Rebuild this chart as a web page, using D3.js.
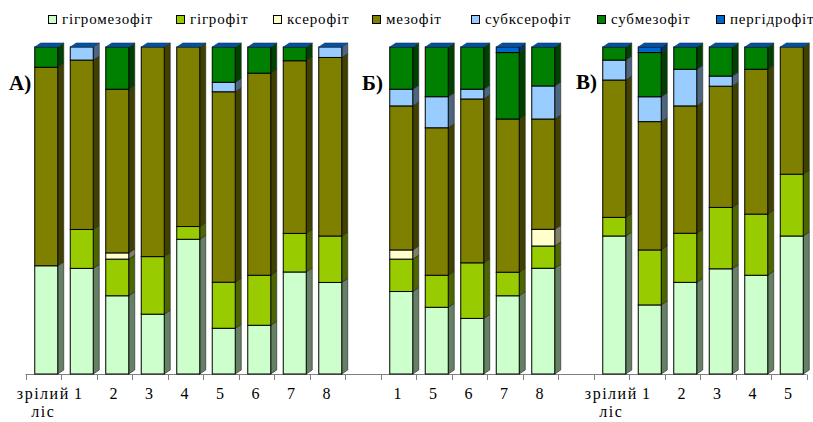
<!DOCTYPE html>
<html>
<head>
<meta charset="utf-8">
<script src="https://cdn.jsdelivr.net/npm/d3@7"></script>
<style>
  body { margin: 0; background: #fff; }
</style>
</head>
<body>
<div id="chart"></div>
<script>
// series (bottom to top in each stack)
const series = ["гігромезофіт", "гігрофіт", "ксерофіт", "мезофіт", "субксерофіт", "субмезофіт", "пергідрофіт"];
const colors = ["#CCFFCC", "#99CC00", "#FFFFCC", "#808000", "#99CCFF", "#008000", "#0066CC"];

// 22 slots: group А (9), gap, group Б (5), gap, group В (6)
const categories = ["A0","A1","A2","A3","A4","A5","A6","A7","A8","gap1",
                    "B1","B5","B6","B7","B8","gap2",
                    "V0","V1","V2","V3","V4","V5"];
const tickLabels = ["зрілий ліс","1","2","3","4","5","6","7","8","",
                    "1","5","6","7","8","",
                    "зрілий ліс","1","2","3","4","5"];
const groupLabels = ["А)", "Б)", "В)"];

// percentages (null = empty slot)
const gigromezofit = [33.1,32.3,23.9,18.3,41.2,14.0,14.9,31.2,28.0,null, 25.2,20.4,17.0,23.9,32.3,null, 42.2,21.1,28.0,32.2,30.2,42.2];
const gigrofit     = [0,11.9,11.2,17.6,3.9,14.1,15.3,11.8,14.2,null,     9.9,9.8,17.0,7.2,6.8,null,      5.7,16.8,15.0,18.8,18.7,18.9];
const kserofit     = [0,0,1.9,0,0,0,0,0,0,null,                          2.8,0,0,0,5.1,null,             0,0,0,0,0,0];
const mezofit      = [60.7,51.8,50.0,64.1,54.9,58.3,61.8,52.8,54.6,null, 44.0,45.1,50.1,46.8,33.7,null, 42.0,39.2,38.9,37.1,44.3,38.9];
const subkserofit  = [0,4.0,0,0,0,2.9,0,0,3.2,null,                      5.1,9.5,3.0,0,10.1,null,        6.1,7.6,11.2,3.1,0,0];
const submezofit   = [6.2,0,12.9,0,0,10.8,8.0,4.2,0,null,                12.9,15.2,12.9,20.3,11.9,null,  4.0,13.5,6.8,8.9,6.8,0];
const pergidrofit  = [0,0,0,0,0,0,0,0,0,null,                            0,0,0,1.7,0,null,               0,1.7,0,0,0,0];

const seriesValues = [gigromezofit, gigrofit, kserofit, mezofit, subkserofit, submezofit, pergidrofit];

const width = 813, height = 422;
const FONT = "'Liberation Serif', 'DejaVu Serif', serif";
const svg = d3.select("#chart").append("svg")
  .attr("width", width).attr("height", height)
  .style("display", "block");

const rows = categories.map((c, i) => {
  const r = { cat: c };
  series.forEach((s, j) => r[s] = seriesValues[j][i] || 0);
  return r;
}).filter((r, i) => gigromezofit[i] !== null);

const stack = d3.stack().keys(series).offset(d3.stackOffsetExpand);
const layers = stack(rows);

const x = d3.scaleBand().domain(categories).range([25.5, 806.5]).paddingInner(0).paddingOuter(0);
const y = d3.scaleLinear().domain([0, 1]).range([374, 47]);
const color = d3.scaleOrdinal().domain(series).range(colors);

const barW = 23, dx = 6, dy = 4;
const bx = c => x(c) + x.bandwidth() / 2 - barW / 2 + 3;

function shade(c, k) {
  const o = d3.rgb(c);
  return d3.rgb(o.r * k, o.g * k, o.b * k).formatHex();
}

// axis line + boundary ticks
const axisG = svg.append("g");
axisG.append("line")
  .attr("x1", x.range()[0]).attr("x2", x.range()[1])
  .attr("y1", 374.5).attr("y2", 374.5)
  .attr("stroke", "#808080").attr("stroke-width", 1);
const tickPos = categories.map(c => x(c)).concat([x.range()[1]]);
axisG.selectAll(".tick").data(tickPos).enter().append("line")
  .attr("x1", d => Math.round(d) + 0.5).attr("x2", d => Math.round(d) + 0.5)
  .attr("y1", 374.5).attr("y2", 380)
  .attr("stroke", "#808080");

// bars: side faces, then front faces, then top cap
const barG = svg.append("g");
rows.forEach((r, i) => {
  const g = barG.append("g");
  layers.forEach((layer, j) => {
    const d = layer[i];
    const y0 = y(d[0]), y1 = y(d[1]);
    if (y0 - y1 <= 0) return;
    const x0 = bx(r.cat);
    g.append("path")
      .attr("d", `M${x0 + barW},${y0} L${x0 + barW + dx},${y0 - dy} L${x0 + barW + dx},${y1 - dy} L${x0 + barW},${y1} Z`)
      .attr("fill", shade(color(layer.key), 0.5))
      .attr("stroke", "#222").attr("stroke-width", 0.6);
    g.append("rect")
      .attr("x", x0).attr("y", y1)
      .attr("width", barW).attr("height", y0 - y1)
      .attr("fill", color(layer.key))
      .attr("stroke", "#000").attr("stroke-width", 1);
  });
  const x0 = bx(r.cat), yt = y(1);
  g.append("path")
    .attr("d", `M${x0},${yt} L${x0 + dx},${yt - dy} L${x0 + barW + dx},${yt - dy} L${x0 + barW},${yt} Z`)
    .attr("fill", shade(color("пергідрофіт"), 0.8))
    .attr("stroke", "#1a3a66").attr("stroke-width", 0.6);
});

// category labels
const labG = svg.append("g").attr("font-family", FONT).attr("font-size", 16).attr("fill", "#000");
categories.forEach((c, i) => {
  const words = tickLabels[i].split(" ");
  const t = labG.append("text")
    .attr("x", x(c) + x.bandwidth() / 2)
    .attr("y", 399)
    .attr("text-anchor", "middle")
    .attr("letter-spacing", 1.5);
  words.forEach((w, k) => {
    t.append("tspan").attr("x", x(c) + x.bandwidth() / 2).attr("dy", k === 0 ? 0 : 18).text(w);
  });
});

// group labels
const groupPos = [[9, 90], [362, 90], [576, 89]];
svg.selectAll(".grp").data(groupLabels).enter().append("text")
  .attr("x", (d, i) => groupPos[i][0]).attr("y", (d, i) => groupPos[i][1])
  .attr("font-family", FONT)
  .attr("font-size", 21).attr("font-weight", "bold")
  .text(d => d);

// legend
const legendX = [48, 176, 273, 372, 471, 597, 716];
const legend = svg.append("g").attr("font-family", FONT).attr("font-size", 15);
series.forEach((s, i) => {
  legend.append("rect")
    .attr("x", legendX[i] + 0.5).attr("y", 15.5).attr("width", 8).attr("height", 8)
    .attr("fill", color(s)).attr("stroke", "#000").attr("stroke-width", 1);
  legend.append("text")
    .attr("x", legendX[i] + 14).attr("y", 24)
    .attr("letter-spacing", 0.8)
    .text(s);
});
</script>
</body>
</html>
